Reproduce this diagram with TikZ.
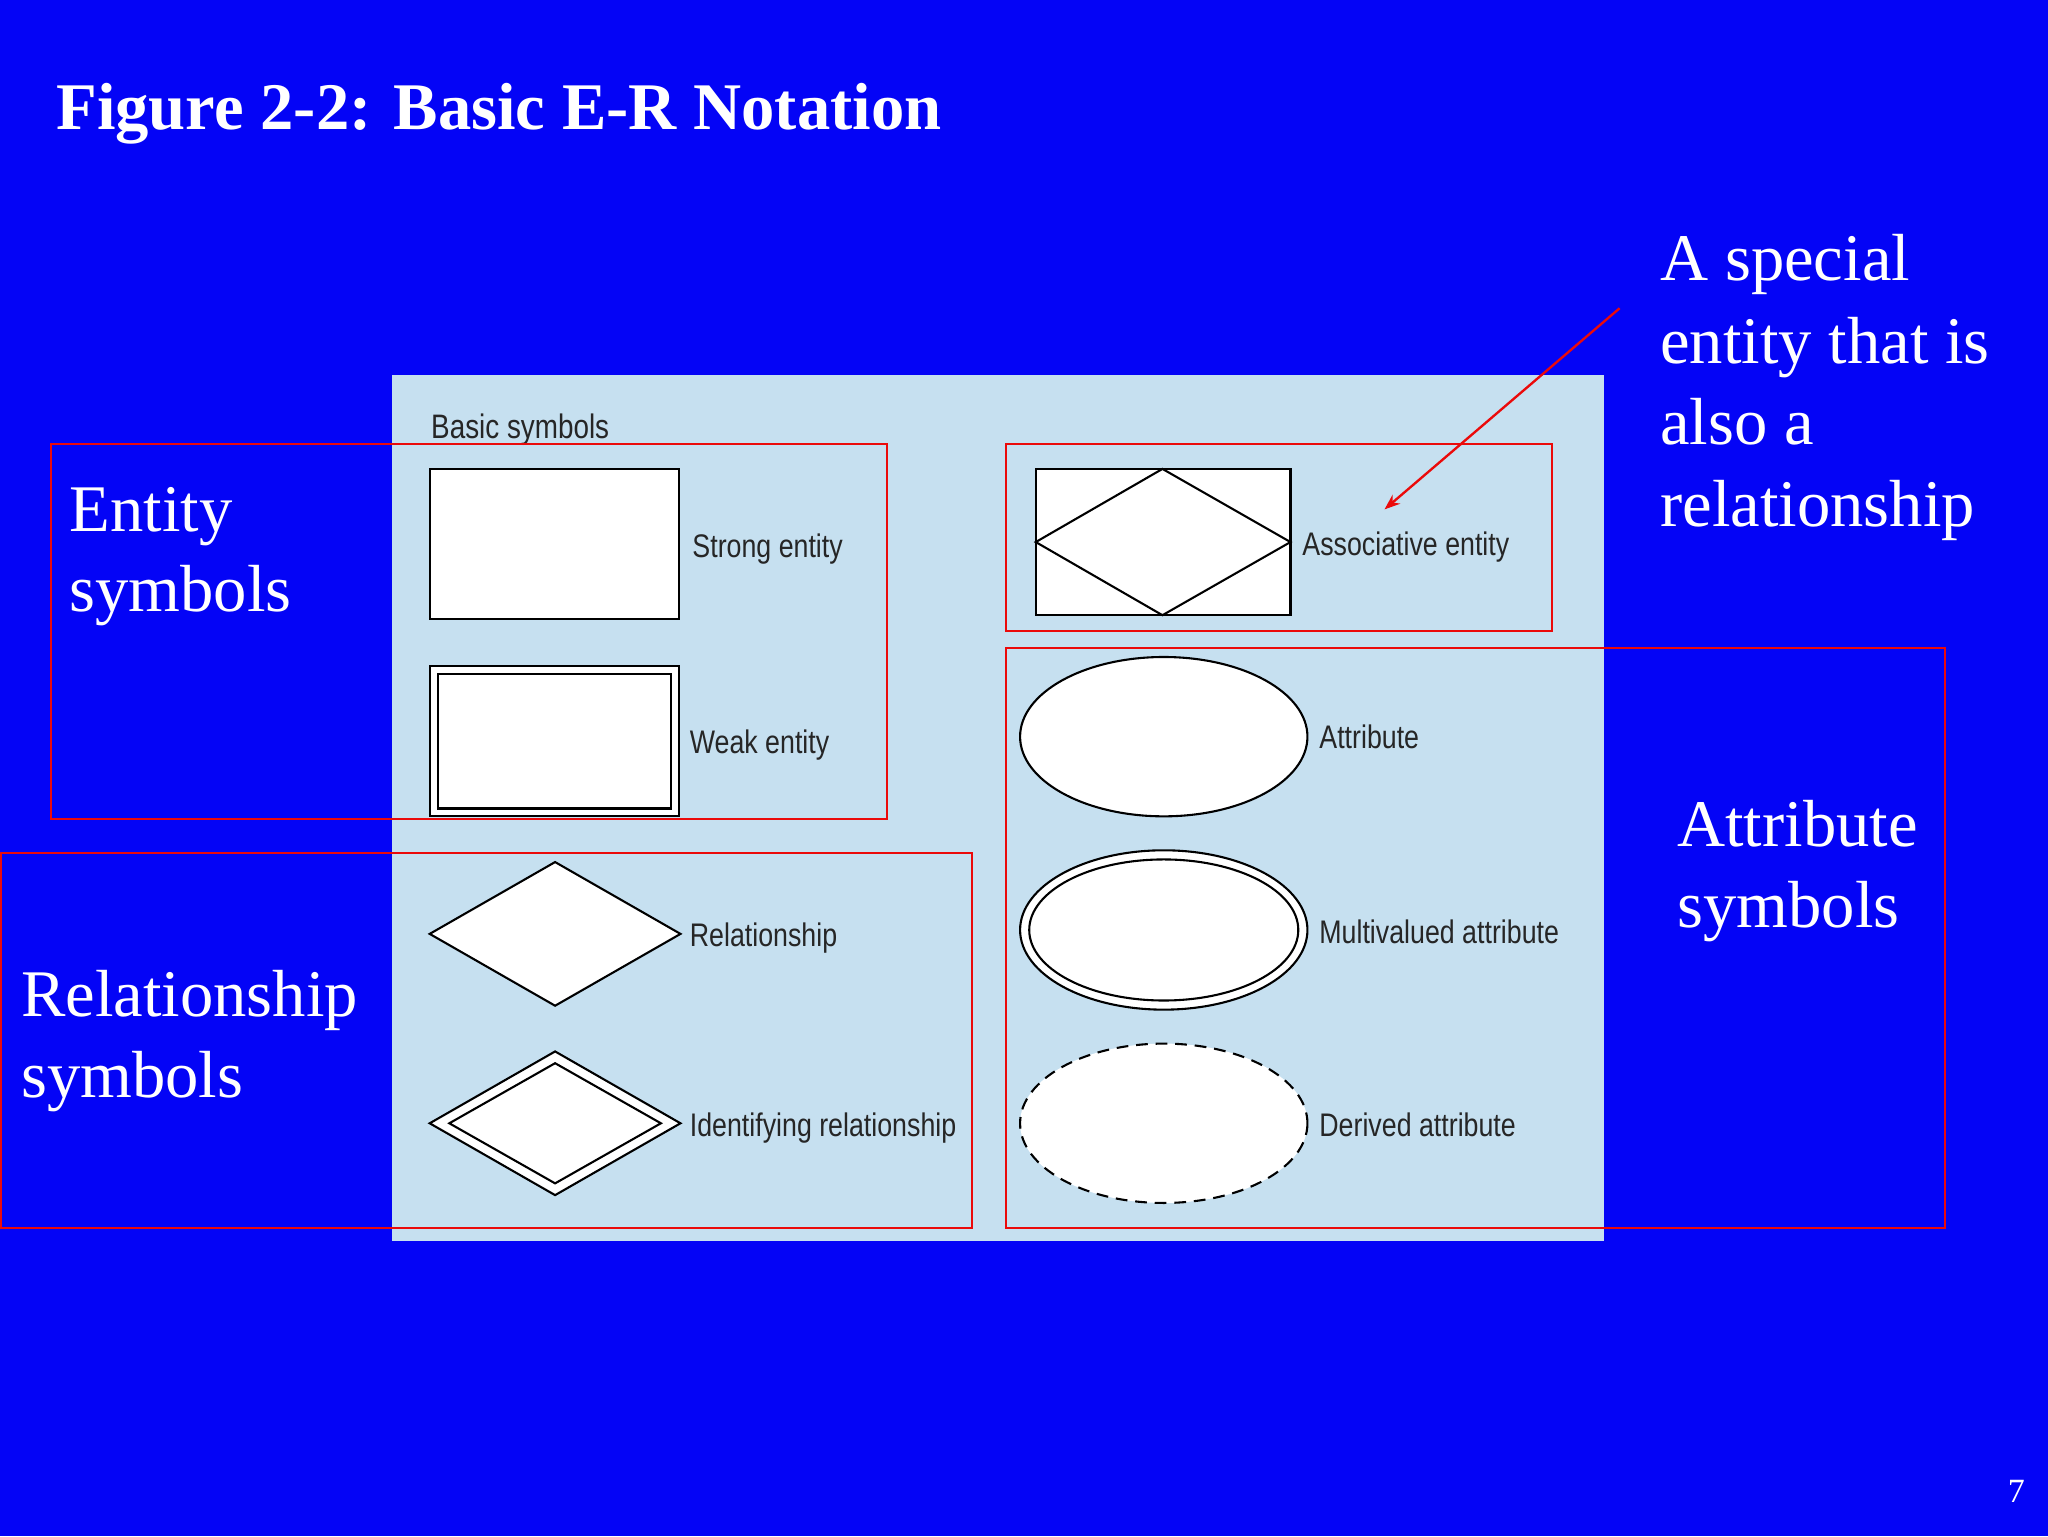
\documentclass[tikz,border=0pt]{standalone}
\usepackage{fontspec}
\setmainfont{Liberation Serif}
\newfontfamily\lsans{Liberation Sans}
\usetikzlibrary{arrows.meta}
\definecolor{bg}{RGB}{4,4,246}
\definecolor{panel}{RGB}{198,224,240}
\definecolor{rd}{RGB}{235,10,10}
\tikzset{
 sym/.style={draw=black,fill=white,line width=1.6pt},
 lab/.style={anchor=base west,inner sep=0pt,font=\lsans\fontsize{25}{28}\selectfont,xscale=0.82,text=black!85},
 wt/.style={anchor=base west,inner sep=0pt,text=white,font=\fontsize{51}{60}\selectfont},
 rbox/.style={draw=rd,line width=1.8pt}
}
\begin{document}
\begin{tikzpicture}[x=1pt,y=-1pt]
\fill[bg] (0,0) rectangle (1568,1176);
\useasboundingbox (0,0) rectangle (1568,1176);
\fill[panel] (300,287) rectangle (1228,950);
\node[anchor=base west,inner sep=0pt,text=white,font=\bfseries\fontsize{51}{56}\selectfont] (title) at (43,99) {Figure 2-2: Basic E-R Notation};
\node[lab,font=\lsans\fontsize{26}{28}\selectfont] (bs) at (330,336) {Basic symbols};
% entities
\draw[sym] (329,359) rectangle (520,474);
\draw[sym] (329,510) rectangle (520,625);
\draw[sym] (335,516) rectangle (514,619);
% relationships
\draw[sym] (425,660) -- (521,715) -- (425,770) -- (329,715) -- cycle;
\draw[sym] (425,805) -- (521,860) -- (425,915) -- (329,860) -- cycle;
\draw[line width=1.6pt] (425,814) -- (506,860) -- (425,906) -- (344,860) -- cycle;
% associative
\draw[sym] (793,359) rectangle (988,471);
\draw[line width=1.6pt] (890,359) -- (988,415) -- (890,471) -- (793,415) -- cycle;
% attributes
\draw[sym] (891,564) ellipse [x radius=110,y radius=61];
\draw[sym] (891,712) ellipse [x radius=110,y radius=61];
\draw[line width=1.6pt] (891,712) ellipse [x radius=103,y radius=54];
\draw[sym,dashed,dash pattern=on 9pt off 6pt] (891,860) ellipse [x radius=110,y radius=61];
% labels
\node[lab] (l1) at (530,427) {Strong entity};
\node[lab] (l2) at (528,577) {Weak entity};
\node[lab] (l3) at (528,725) {Relationship};
\node[lab] (l4) at (528,870) {Identifying relationship};
\node[lab] (l5) at (997,425) {Associative entity};
\node[lab] (l6) at (1010,573) {Attribute};
\node[lab] (l7) at (1010,722) {Multivalued attribute};
\node[lab] (l8) at (1010,870) {Derived attribute};
% red boxes
\draw[rbox] (39,340) rectangle (679,627);
\draw[rbox] (1,653) rectangle (744,940);
\draw[rbox] (770,340) rectangle (1188,483);
\draw[rbox] (770,496) rectangle (1489,940);
% white texts
\node[wt] (e1) at (53,407) {Entity};
\node[wt] (e2) at (53,468) {symbols};
\node[wt] (r1) at (16,778) {Relationship};
\node[wt] (r2) at (16,840) {symbols};
\node[wt] (a1) at (1284,648) {Attribute};
\node[wt] (a2) at (1284,710) {symbols};
\node[wt] (s1) at (1271,215) {A special};
\node[wt] (s2) at (1271,278) {entity that is};
\node[wt] (s3) at (1271,340) {also a};
\node[wt] (s4) at (1271,403) {relationship};
\coordinate (as) at (1240,236);
\coordinate (ae) at (1060,390);
\draw[rd,line width=1.8pt,-{Stealth[length=12pt,width=9pt]}] (as) -- (ae);
\node[anchor=base west,inner sep=0pt,text=white,font=\fontsize{26}{30}\selectfont] (pg) at (1537,1150) {7};
\end{tikzpicture}
\end{document}
